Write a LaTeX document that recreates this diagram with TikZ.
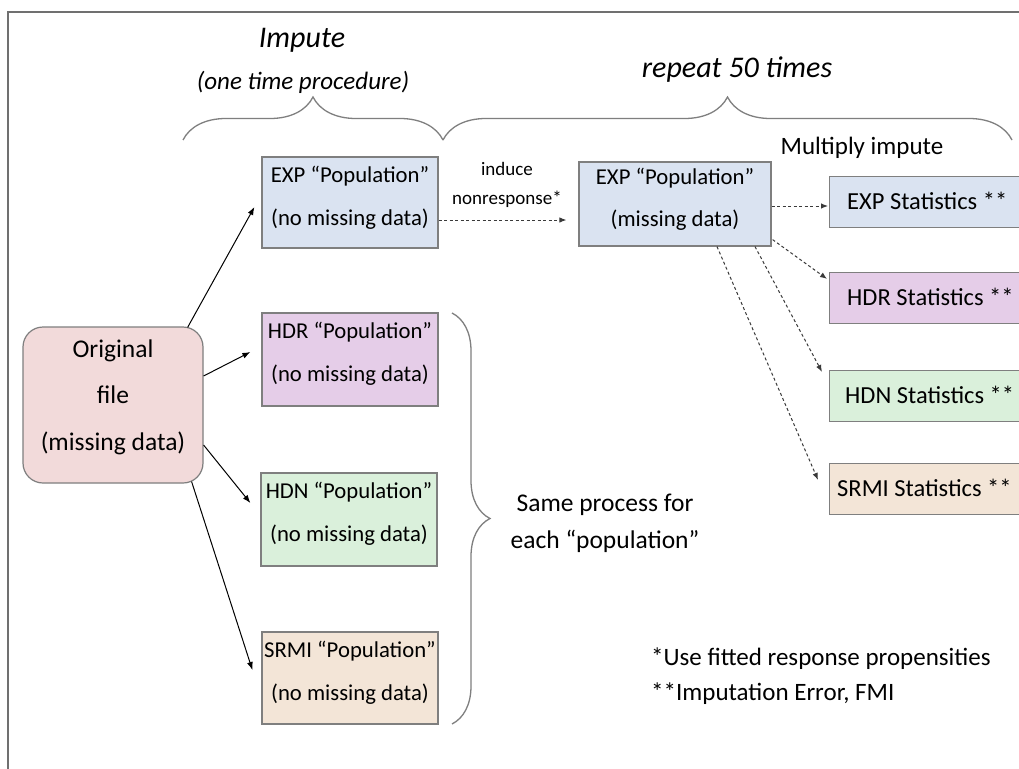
\documentclass[tikz,border=0pt]{standalone}
\usepackage{fontspec}
\setmainfont{Carlito}
\usetikzlibrary{arrows.meta,calc,decorations.pathreplacing}
\definecolor{boxline}{HTML}{7F7F7F}
\definecolor{framecol}{HTML}{707070}
\definecolor{fblue}{HTML}{DAE3F1}
\definecolor{fpurple}{HTML}{E5CDE8}
\definecolor{fgreen}{HTML}{DAF0DB}
\definecolor{fpeach}{HTML}{F3E5D7}
\definecolor{fpink}{HTML}{F2DADA}
\definecolor{dashcol}{HTML}{3A3A3A}
\begin{document}
\begin{tikzpicture}[x=1pt,y=-1pt,
  popbox/.style={draw=boxline, line width=1.2pt, minimum width=176pt,
    inner sep=0pt},
  intext/.style={inner sep=0pt, align=center, font=\fontsize{22.7}{43}\selectfont},
  statbox/.style={draw=boxline, line width=1.2pt, anchor=west, minimum height=51pt,
    minimum width=220pt, inner sep=0pt},
  stattext/.style={inner sep=0pt, anchor=west, font=\fontsize{24.5}{30}\selectfont},
  arr/.style={line width=1pt, black, -{Latex[length=8pt,width=6pt]}},
  darr/.style={line width=1pt, dashcol, dash pattern=on 3pt off 2.5pt,
    -{Latex[length=7pt,width=5.5pt]}},
  bracestyle/.style={draw=boxline, line width=1.3pt, decorate},
  lbl/.style={inner sep=0pt, font=\fontsize{25}{30}\selectfont}
]
\clip (0,0) rectangle (1019,768);
\fill[white] (0,0) rectangle (1019,768);
% frame
\draw[framecol, line width=1.5pt] (8,12) rectangle (1040,800);

% top labels
\node[lbl, font=\fontsize{30}{36}\itshape] (imp) at (302,40) {Impute};
\node[lbl, font=\fontsize{25}{30}\itshape] (once) at (303,82) {(one time procedure)};
\node[lbl, font=\fontsize{30}{36}\itshape] (rep) at (737,70) {repeat 50 times};

% braces
\coordinate (b1a) at (183,140);
\coordinate (b1b) at (443,140);
\coordinate (b2b) at (1012,140);
\draw[bracestyle, decoration={brace, amplitude=43pt}] (b1a) -- (b1b);
\draw[bracestyle, decoration={brace, amplitude=43pt}] (b1b) -- (b2b);
\coordinate (b3a) at (452,313);
\coordinate (b3b) at (452,724);
\draw[bracestyle, decoration={brace, amplitude=38pt}] (b3a) -- (b3b);

% boxes
\node[draw=boxline, line width=1.2pt, fill=fpink, rounded corners=20pt,
  minimum width=180pt, minimum height=156pt, inner sep=0pt] (orig) at (113,405) {};
\node[intext, font=\fontsize{25.5}{46.5}\selectfont] (origt) at (113,397)
  {Original\\file\\(missing data)};

\node[popbox, fill=fblue, minimum height=91pt] (exp) at (350,202.5) {};
\node[intext] (expt) at (350,197.5) {EXP “Population”\\(no missing data)};
\node[popbox, fill=fpurple, minimum height=93pt] (hdr) at (350,359.5) {};
\node[intext] (hdrt) at (350,353.5) {HDR “Population”\\(no missing data)};
\node[popbox, fill=fgreen, minimum height=93pt] (hdn) at (349,519.5) {};
\node[intext] (hdnt) at (349,513.5) {HDN “Population”\\(no missing data)};
\node[popbox, fill=fpeach, minimum height=92pt] (srmi) at (350,678) {};
\node[intext] (srmit) at (350,672.5) {SRMI “Population”\\(no missing data)};

\node[popbox, fill=fblue, minimum width=192pt, minimum height=84pt] (miss) at (675,204) {};
\node[intext, font=\fontsize{22.7}{42}\selectfont] (misst) at (675,199.5)
  {EXP “Population”\\(missing data)};

\node[statbox, fill=fblue] (sexp) at (829,202) {};
\node[stattext] (sexpt) at (847,201) {EXP Statistics **};
\node[statbox, fill=fpurple] (shdr) at (829,298) {};
\node[stattext] (shdrt) at (847,297) {HDR Statistics **};
\node[statbox, fill=fgreen] (shdn) at (829,396) {};
\node[stattext] (shdnt) at (845,395) {HDN Statistics **};
\node[statbox, fill=fpeach] (ssrmi) at (829,489) {};
\node[stattext] (ssrmit) at (837,488) {SRMI Statistics **};

% labels
\node[inner sep=0pt, align=center, font=\fontsize{19}{29}\selectfont] (ind) at (507,185)
  {induce\\nonresponse*};
\node[lbl] (mult) at (862,148) {Multiply impute};
\node[inner sep=0pt, align=center, font=\fontsize{25.5}{37}\selectfont] (same) at (605,523)
  {Same process for\\each “population”};
\node[inner sep=0pt, anchor=west, align=left, font=\fontsize{25}{35}\selectfont] (foot) at (651,676)
  {*Use fitted response propensities\\**Imputation Error, FMI};

% solid arrows
\draw[arr] ($(orig.north east)+(-16,1)$) -- ($(exp.west)+(-7,4.5)$);
\draw[arr] ($(orig.east)+(0,-29)$) -- ($(hdr.west)+(-11,-7.5)$);
\draw[arr] ($(orig.east)+(0,40)$) -- ($(hdn.west)+(-10,-16.5)$);
\draw[arr] ($(orig.south east)+(-12,-2)$) -- ($(srmi.west)+(-9,-8)$);

% dashed arrows
\draw[darr] ($(exp.east)+(0,17.5)$) -- ($(miss.west)+(-12,16)$);
\draw[darr] ($(miss.east)+(0,2)$) -- ($(sexp.west)+(-1,4)$);
\draw[darr] ($(miss.south east)+(1,-7)$) -- ($(shdr.north west)+(-2,7)$);
\draw[darr] ($(miss.south)+(80,0)$) -- ($(shdn.north west)+(-7,2)$);
\draw[darr] ($(miss.south)+(42,0)$) -- ($(ssrmi.north west)+(-11,17)$);
\end{tikzpicture}
\end{document}
